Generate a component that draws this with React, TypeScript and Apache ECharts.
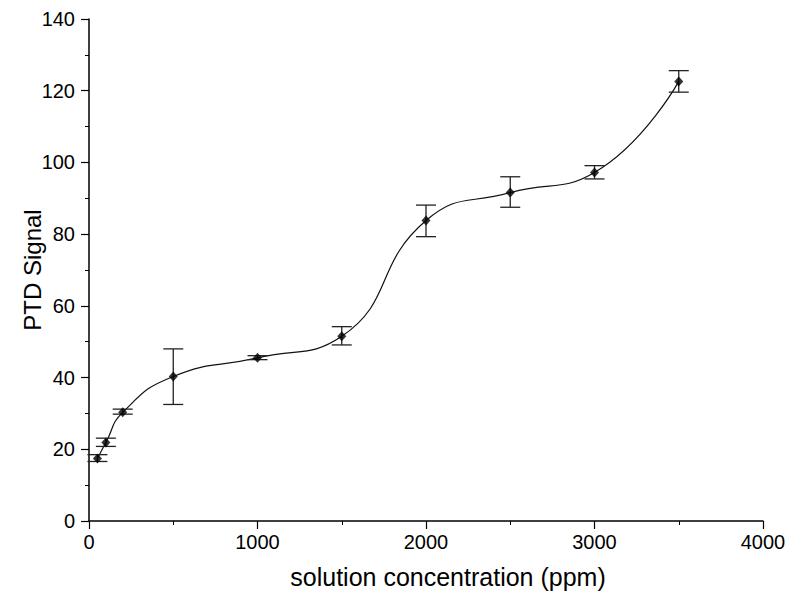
import React, { useEffect, useRef } from "react";
import * as echarts from "echarts";

const concentration = [50, 100, 200, 500, 1000, 1500, 2000, 2500, 3000, 3500];
const signal = [17.4, 21.9, 30.3, 40.3, 45.5, 51.5, 83.8, 91.6, 97.2, 122.6];
const errLow = [16.6, 20.8, 29.8, 32.5, 45.0, 49.1, 79.3, 87.5, 95.4, 119.6];
const errHigh = [18.5, 23.1, 31.2, 48.0, 46.1, 54.2, 88.1, 96.0, 99.1, 125.6];
const xTitle = "solution concentration (ppm)";
const yTitle = "PTD Signal";

export default function App() {
  const ref = useRef<HTMLDivElement>(null);
  useEffect(() => {
    if (!ref.current) return;
    const chart = echarts.init(ref.current, null, { renderer: "svg" });
    const pts = concentration.map((c, i) => [c, signal[i]]);
    const errs = concentration.map((c, i) => [c, errLow[i], errHigh[i]]);
    const font = "Liberation Sans, Arial, sans-serif";
    chart.setOption({
      animation: false,
      backgroundColor: "#ffffff",
      grid: { left: 89, right: 27, top: 19, bottom: 76 },
      xAxis: {
        type: "value",
        min: 0,
        max: 4000,
        interval: 1000,
        name: xTitle,
        nameLocation: "middle",
        nameGap: 43,
        nameMoveOverlap: false,
        nameTextStyle: { fontFamily: font, fontSize: 25, color: "#000", padding: [0, 0, 0, 44] },
        axisLine: { show: true, onZero: false, lineStyle: { color: "#000", width: 1.5 } },
        axisTick: { show: true, length: 8, lineStyle: { color: "#000", width: 1.2 } },
        minorTick: { show: true, splitNumber: 2, length: 4, lineStyle: { color: "#000", width: 1 } },
        axisLabel: { fontFamily: font, fontSize: 20, color: "#000", margin: 11, formatter: (v: number) => String(v) },
        splitLine: { show: false },
      },
      yAxis: {
        type: "value",
        min: 0,
        max: 140,
        interval: 20,
        name: yTitle,
        nameLocation: "middle",
        nameGap: 45,
        nameMoveOverlap: false,
        nameTextStyle: { fontFamily: font, fontSize: 24, color: "#000" },
        axisLine: { show: true, onZero: false, lineStyle: { color: "#000", width: 1.5 } },
        axisTick: { show: true, length: 8, lineStyle: { color: "#000", width: 1.2 } },
        minorTick: { show: true, splitNumber: 2, length: 4, lineStyle: { color: "#000", width: 1 } },
        axisLabel: { fontFamily: font, fontSize: 20, color: "#000", margin: 14, formatter: (v: number) => String(v) },
        splitLine: { show: false },
      },
      series: [
        {
          type: "line",
          data: pts,
          smooth: 0.5,
          showSymbol: false,
          lineStyle: { color: "#111", width: 1.2 },
          z: 2,
        },
        {
          type: "custom",
          data: errs,
          renderItem: (params: any, api: any) => {
            const x = api.value(0);
            const lo = api.coord([x, api.value(1)]);
            const hi = api.coord([x, api.value(2)]);
            const hw = 10;
            const style = { stroke: "#222", lineWidth: 1.3 };
            return {
              type: "group",
              children: [
                { type: "line", shape: { x1: lo[0], y1: lo[1], x2: hi[0], y2: hi[1] }, style },
                { type: "line", shape: { x1: lo[0] - hw, y1: lo[1], x2: lo[0] + hw, y2: lo[1] }, style },
                { type: "line", shape: { x1: hi[0] - hw, y1: hi[1], x2: hi[0] + hw, y2: hi[1] }, style },
              ],
            };
          },
          z: 3,
        },
        {
          type: "scatter",
          data: pts,
          symbol: "diamond",
          symbolSize: [9, 10],
          itemStyle: { color: "#000" },
          z: 4,
        },
      ],
    });
    return () => chart.dispose();
  }, []);
  return (
    <div
      ref={ref}
      style={{ position: "fixed", left: 0, top: 0, width: 790, height: 597, background: "#fff" }}
    />
  );
}
